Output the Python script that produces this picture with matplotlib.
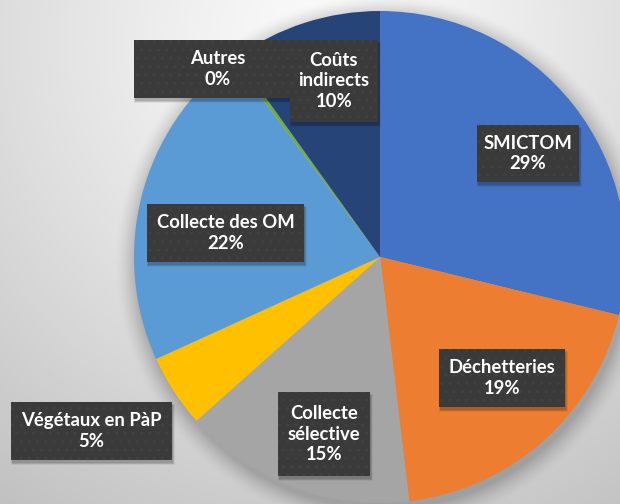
import numpy as np
import matplotlib
matplotlib.use("Agg")
import matplotlib.pyplot as plt
from matplotlib.patches import Rectangle

# ---- data ----
categories = ["SMICTOM", "Déchetteries", "Collecte\nsélective", "Végétaux en PàP",
              "Collecte des OM", "Autres", "Coûts\nindirects"]
shares = [28.8, 19.3, 15.3, 4.8, 21.6, 0.3, 9.9]
colors = ["#4472C4", "#ED7D31", "#A5A5A5", "#FFC000", "#5B9BD5", "#70AD47", "#264478"]

# label boxes (pixel coords, y from top): x0, x1, y0, y1
boxes = [(477, 579, 125, 182), (439, 565, 349, 407), (278, 370, 392, 476),
         (11, 172, 402, 460), (147, 304, 204, 262), (134, 302, 40, 98),
         (290, 378, 40, 122)]

W, H = 620, 504
fig = plt.figure(figsize=(W / 100, H / 100), dpi=100)
ax = fig.add_axes([0, 0, 1, 1])

cx, cy, R = 380, H - 257, 246

# background gradient + pie shadow
yy, xx = np.mgrid[0:H, 0:W]
d = np.hypot(xx - 330, yy - 40)
g = 0.985 - (0.985 - 0.76) * np.clip(d / 560, 0, 1) ** 1.2
ds = np.hypot(xx - (cx + 2), yy - (257 + 5))
shadow = 0.22 * np.clip(1 - (ds - R) / 22, 0, 1) ** 1.5
g = g * (1 - shadow)
img = np.dstack([g, g, g])
ax.imshow(img, extent=(0, W, 0, H), origin="upper", zorder=0, interpolation="bilinear")

wedges, _ = ax.pie(shares, colors=colors, startangle=90, counterclock=False,
                   center=(cx, cy), radius=R, frame=True,
                   wedgeprops=dict(linewidth=0))
for w in wedges:
    w.set_zorder(2)
ax.set_xlim(0, W)
ax.set_ylim(0, H)
ax.set_aspect("equal")
ax.axis("off")

for cat, v, (x0, x1, y0, y1) in zip(categories, shares, boxes):
    # soft drop shadow
    for k, a in zip(range(4), [0.10, 0.08, 0.06, 0.05]):
        ax.add_patch(Rectangle((x0 + 1 - k * 0.5, H - y1 - 3 - k * 0.5),
                               x1 - x0 + k, y1 - y0 + k,
                               facecolor="black", alpha=a, linewidth=0, zorder=4))
    ax.add_patch(Rectangle((x0, H - y1), x1 - x0, y1 - y0,
                           facecolor="#3a3a3a", edgecolor="#414141",
                           linewidth=0, hatch="..", zorder=5))
    ax.text((x0 + x1) / 2, H - (y0 + y1) / 2, f"{cat}\n{round(v)}%",
            ha="center", va="center", color="white", fontsize=13.3,
            fontweight="bold", family="Lato", linespacing=1.22, zorder=6)

fig.savefig("out.png", dpi=100)
